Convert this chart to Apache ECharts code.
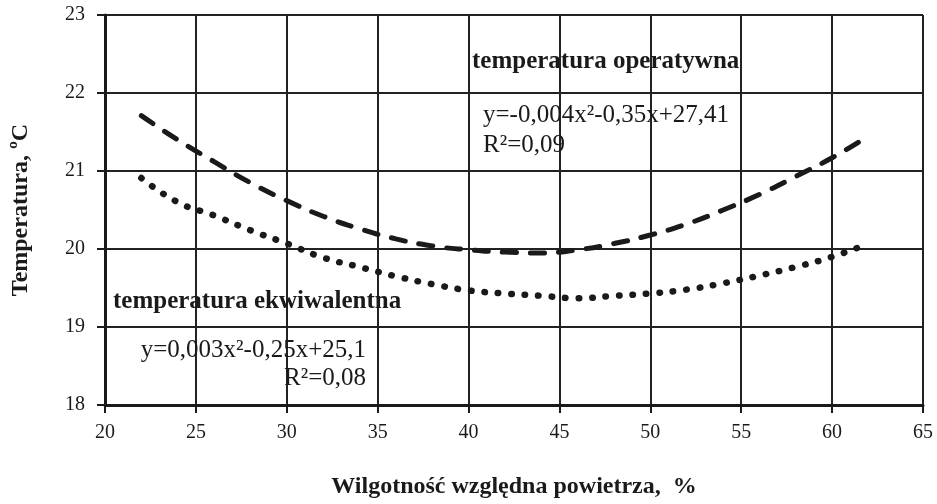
<!DOCTYPE html>
<html>
<head>
<meta charset="utf-8">
<script src="https://cdn.jsdelivr.net/npm/echarts@6/dist/echarts.min.js"></script>
<style>
html,body{margin:0;padding:0;background:#fff;}
#chart{width:937px;height:504px;}
</style>
</head>
<body>
<div id="chart"></div>
<script>
// Relative humidity, %
const humidity = [22, 24, 26, 28, 30, 32, 34, 36, 38, 40, 42, 44, 46, 48, 50, 52, 54, 56, 58, 60, 62];
// Operative temperature (dashed curve), °C
const tempOperatywna = [21.71, 21.40, 21.12, 20.85, 20.62, 20.42, 20.26, 20.13, 20.04, 19.99, 19.96, 19.95, 19.99, 20.07, 20.18, 20.32, 20.50, 20.70, 20.93, 21.17, 21.45];
// Equivalent temperature (dotted curve), °C
const tempEkwiwalentna = [20.91, 20.60, 20.43, 20.24, 20.07, 19.89, 19.77, 19.65, 19.55, 19.47, 19.43, 19.40, 19.37, 19.40, 19.43, 19.48, 19.56, 19.66, 19.77, 19.90, 20.07];

const xName = 'Wilgotność względna powietrza,  %';
const yName = 'Temperatura, ºC';
const labelOper = 'temperatura operatywna';
const eqOper = 'y=-0,004x²-0,35x+27,41';
const r2Oper = 'R²=0,09';
const labelEkw = 'temperatura ekwiwalentna';
const eqEkw = 'y=0,003x²-0,25x+25,1';
const r2Ekw = 'R²=0,08';

const FONT = '"Liberation Serif", "Times New Roman", serif';
const INK = '#1a1a1a';

const chart = echarts.init(document.getElementById('chart'), null, {renderer: 'canvas'});

const pair = (xs, ys) => xs.map((x, i) => [x, ys[i]]);

chart.setOption({
  animation: false,
  backgroundColor: '#fff',
  grid: {left: 105, right: 14, top: 15, bottom: 95, containLabel: false},
  xAxis: {
    type: 'value', min: 20, max: 65, interval: 5,
    name: xName, nameLocation: 'middle', nameGap: 70,
    nameTextStyle: {fontFamily: FONT, fontWeight: 'bold', fontSize: 24, color: INK},
    axisLine: {show: true, onZero: false, lineStyle: {color: INK, width: 3}},
    axisTick: {show: true, inside: false, length: 8, lineStyle: {color: INK, width: 2}},
    axisLabel: {fontFamily: FONT, fontSize: 20, color: INK, margin: 18},
    splitLine: {show: true, lineStyle: {color: '#222', width: 2}}
  },
  yAxis: {
    type: 'value', min: 18, max: 23, interval: 1,
    name: yName, nameLocation: 'middle', nameGap: 72, nameRotate: 90,
    nameTextStyle: {fontFamily: FONT, fontWeight: 'bold', fontSize: 24, color: INK, padding: [0, 0, 0, 0]},
    axisLine: {show: true, onZero: false, lineStyle: {color: INK, width: 3}},
    axisTick: {show: true, inside: false, length: 8, lineStyle: {color: INK, width: 2}},
    axisLabel: {fontFamily: FONT, fontSize: 20, color: INK, margin: 20},
    splitLine: {show: true, lineStyle: {color: '#222', width: 2}}
  },
  series: [
    {
      name: labelOper,
      type: 'line',
      smooth: true,
      symbol: 'none',
      data: pair(humidity, tempOperatywna),
      lineStyle: {color: INK, width: 5, type: [14, 14], cap: 'round'},
      z: 5
    },
    {
      name: labelEkw,
      type: 'line',
      smooth: true,
      symbol: 'none',
      data: pair(humidity, tempEkwiwalentna),
      lineStyle: {color: INK, width: 6.5, type: [0.5, 13], cap: 'round'},
      z: 5
    }
  ],
  graphic: [
    {type: 'text', left: 472, top: 49, z: 10,
     style: {text: labelOper, font: 'bold 25px ' + FONT, fill: INK}},
    {type: 'text', left: 483, top: 103, z: 10,
     style: {text: eqOper, font: '25px ' + FONT, fill: INK}},
    {type: 'text', left: 483, top: 133, z: 10,
     style: {text: r2Oper, font: '25px ' + FONT, fill: INK}},
    {type: 'text', left: 113, top: 289, z: 10,
     style: {text: labelEkw, font: 'bold 25px ' + FONT, fill: INK}},
    {type: 'text', right: 937 - 366, top: 338, z: 10,
     style: {text: eqEkw, font: '25px ' + FONT, fill: INK}},
    {type: 'text', right: 937 - 366, top: 366, z: 10,
     style: {text: r2Ekw, font: '25px ' + FONT, fill: INK}}
  ]
});
</script>
</body>
</html>
